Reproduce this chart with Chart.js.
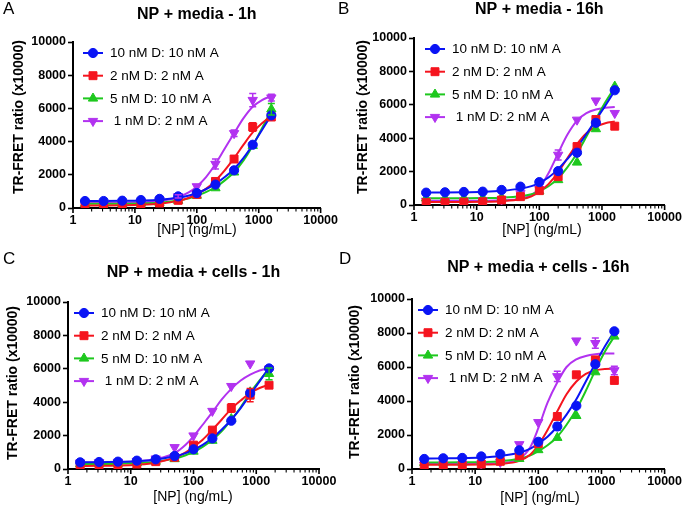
<!DOCTYPE html>
<html>
<head>
<meta charset="utf-8">
<script src="https://cdn.jsdelivr.net/npm/chart.js@4"></script>
<style>
  body { margin: 0; background: #fff; width: 687px; height: 513px; position: relative; overflow: hidden; }
  canvas { position: absolute; }
  .letter { position: absolute; font: 17px "Liberation Sans", Arial, sans-serif; line-height: 17px; color: #000; z-index: 2; }
</style>
</head>
<body>
<canvas id="panelA" width="343" height="250" style="left:0;top:0"></canvas>
<canvas id="panelB" width="344" height="250" style="left:343px;top:0"></canvas>
<canvas id="panelC" width="343" height="263" style="left:0;top:250px"></canvas>
<canvas id="panelD" width="344" height="263" style="left:343px;top:250px"></canvas>
<div class="letter" style="left:3px;top:0">A</div>
<div class="letter" style="left:338px;top:0">B</div>
<div class="letter" style="left:3px;top:250px">C</div>
<div class="letter" style="left:339px;top:250px">D</div>

<script>
// series names (legend order)
const seriesNames = ['10 nM D: 10 nM A', '2 nM D: 2 nM A', '5 nM D: 10 nM A', ' 1 nM D: 2 nM A'];

// [NP] in ng/mL, two-fold dilution
const concentrations = [1.5625, 3.125, 6.25, 12.5, 25, 50, 100, 200, 400, 800, 1600];
const fitX = [1.5625, 3.125, 6.25, 12.5, 25, 50, 75, 100, 140, 200, 280, 400, 565, 800, 1130, 1600];

const xMajorTicks = [1, 10, 100, 1000, 10000];
const xTickLabels = ['1', '10', '100', '1000', '10000'];
const yTicks = [0, 2000, 4000, 6000, 8000, 10000];
const yTickLabels = ['0', '2000', '4000', '6000', '8000', '10000'];

// Panel A: NP + media - 1h
const aBlue   = [420, 420, 440, 480, 550, 700, 900, 1410, 2270, 3810, 5580];
const aRed    = [100, 130, 150, 200, 300, 460, 820, 1600, 2950, 4880, 5480];
const aGreen  = [250, 250, 260, 280, 320, 450, 750, 1200, 2150, 3750, 5950];
const aPurple = [300, 300, 320, 350, 450, 700, 1300, 2650, 4500, 6500, 6650];
const aRedErr    = [0, 0, 0, 0, 0, 0, 0, 0, 0, 250, 0];
const aGreenErr  = [0, 0, 0, 0, 0, 0, 0, 0, 0, 0, 350];
const aPurpleErr = [0, 0, 0, 0, 0, 100, 0, 300, 200, 400, 200];
const aBlueFit   = [420, 420, 430, 450, 500, 620, 750, 900, 1130, 1450, 1850, 2350, 3000, 3800, 4700, 5600];
const aRedFit    = [150, 155, 165, 190, 260, 430, 620, 830, 1150, 1650, 2250, 3000, 3800, 4550, 5100, 5550];
const aGreenFit  = [250, 255, 260, 275, 320, 450, 580, 750, 960, 1250, 1650, 2150, 2850, 3750, 4800, 5900];
const aPurpleFit = [300, 305, 315, 340, 420, 650, 950, 1300, 1850, 2650, 3550, 4500, 5400, 6100, 6500, 6750];

// Panel B: NP + media - 16h
const bBlue   = [740, 760, 780, 800, 900, 1100, 1370, 2030, 3130, 4920, 6870];
const bRed    = [140, 160, 170, 190, 300, 500, 860, 1700, 3500, 5120, 4720];
const bGreen  = [400, 400, 410, 420, 450, 550, 820, 1500, 2550, 4550, 7100];
const bPurple = [250, 250, 260, 270, 320, 700, 950, 3000, 5100, 6250, 5500];
const bBlueErr   = [0, 0, 0, 0, 0, 0, 0, 0, 0, 150, 0];
const bPurpleErr = [0, 0, 0, 0, 0, 0, 0, 300, 0, 0, 0];
const bBlueFit   = [740, 745, 760, 790, 850, 980, 1130, 1330, 1650, 2150, 2750, 3450, 4250, 5100, 5950, 6850];
const bRedFit    = [180, 180, 185, 195, 230, 340, 520, 800, 1250, 1950, 2800, 3650, 4300, 4700, 4900, 5000];
const bGreenFit  = [400, 400, 405, 415, 440, 520, 640, 820, 1120, 1600, 2250, 3100, 4100, 5150, 6150, 7050];
const bPurpleFit = [250, 250, 252, 258, 280, 380, 600, 1000, 1900, 3100, 4200, 5050, 5500, 5720, 5820, 5870];

// Panel C: NP + media + cells - 1h
const cBlue   = [400, 420, 440, 500, 580, 780, 1180, 1830, 2890, 4560, 6020];
const cRed    = [180, 200, 220, 300, 440, 700, 1430, 2330, 3650, 4420, 5020];
const cGreen  = [300, 310, 320, 370, 450, 600, 1050, 1700, 3000, 4600, 5700];
const cPurple = [380, 400, 420, 480, 620, 1300, 2000, 3470, 4960, 6310, 6000];
const cBlueErr  = [0, 0, 0, 0, 0, 0, 0, 0, 0, 200, 0];
const cRedErr   = [0, 0, 0, 0, 0, 0, 0, 0, 250, 400, 0];
const cGreenErr = [0, 0, 0, 0, 0, 0, 0, 0, 0, 0, 350];
const cBlueFit   = [400, 410, 430, 470, 560, 760, 950, 1150, 1450, 1850, 2350, 2950, 3650, 4450, 5250, 6050];
const cRedFit    = [180, 190, 210, 260, 380, 680, 1000, 1330, 1750, 2350, 2950, 3600, 4100, 4550, 4850, 5050];
const cGreenFit  = [300, 305, 320, 360, 440, 620, 820, 1020, 1320, 1750, 2250, 2950, 3700, 4550, 5300, 6000];
const cPurpleFit = [380, 390, 410, 460, 600, 950, 1450, 1950, 2650, 3400, 4150, 4800, 5300, 5650, 5900, 6050];

// Panel D: NP + media + cells - 16h
const dBlue   = [590, 630, 650, 740, 880, 1100, 1600, 2500, 3720, 6160, 8100];
const dRed    = [160, 200, 210, 290, 450, 780, 1490, 3090, 5540, 6420, 5210];
const dGreen  = [370, 380, 390, 420, 470, 600, 1120, 1840, 3130, 5700, 7800];
const dPurple = [250, 260, 270, 300, 400, 1450, 2750, 5450, 7550, 7400, 5800];
const dBlueErr   = [0, 0, 0, 0, 0, 0, 0, 200, 0, 0, 0];
const dPurpleErr = [0, 0, 0, 0, 0, 0, 0, 300, 0, 300, 250];
const dBlueFit   = [620, 625, 640, 680, 770, 960, 1200, 1500, 1900, 2500, 3200, 4100, 5150, 6200, 7200, 8100];
const dRedFit    = [250, 252, 255, 265, 300, 480, 850, 1400, 2300, 3400, 4400, 5150, 5600, 5800, 5880, 5900];
const dGreenFit  = [380, 382, 390, 410, 460, 600, 800, 1050, 1400, 1900, 2600, 3500, 4600, 5800, 6900, 7800];
const dPurpleFit = [300, 300, 302, 310, 350, 600, 1300, 2400, 3900, 5100, 6000, 6450, 6650, 6750, 6790, 6800];

const colors = ['#0a14f5', '#f5141e', '#1ec81e', '#b232f0'];
const pointStyles = ['circle', 'rect', 'triangle', 'triangle'];
const pointRotations = [0, 0, 0, 180];
const pointRadii = [4.6, 5.6, 5.4, 5.4];

function drawMarker(ctx, i, x, y) {
    ctx.save();
    ctx.fillStyle = colors[i];
    ctx.strokeStyle = colors[i];
    ctx.lineWidth = 1;
    Chart.helpers.drawPoint(ctx, {
        pointStyle: pointStyles[i], rotation: pointRotations[i],
        radius: pointRadii[i], borderWidth: 1
    }, x, y);
    ctx.restore();
}

function makePanel(id, cfg) {
    const datasets = [];
    cfg.points.forEach(function (arr, i) {
        datasets.push({
            label: seriesNames[i],
            data: concentrations.map((x, k) => ({ x: x, y: arr[k] })),
            showLine: false,
            pointStyle: pointStyles[i],
            rotation: pointRotations[i],
            pointRadius: pointRadii[i],
            backgroundColor: colors[i],
            borderColor: colors[i],
            borderWidth: 1,
            order: 0,
            errors: cfg.errors[i]
        });
    });
    cfg.fits.forEach(function (arr, i) {
        datasets.push({
            label: seriesNames[i] + ' fit',
            data: fitX.map((x, k) => ({ x: x, y: arr[k] })),
            borderColor: colors[i],
            borderWidth: 2,
            pointRadius: 0,
            cubicInterpolationMode: 'monotone',
            order: 1
        });
    });

    const canvas = document.getElementById(id);
    const W = canvas.width, H = canvas.height;
    const a = cfg.area;

    const decor = {
        id: 'decor',
        afterDatasetsDraw(chart) {
            const ctx = chart.ctx, xs = chart.scales.x, ys = chart.scales.y;
            // error bars
            ctx.save();
            ctx.lineWidth = 1.5;
            chart.data.datasets.forEach(function (ds) {
                if (!ds.errors) return;
                ctx.strokeStyle = ds.borderColor;
                ds.data.forEach(function (p, k) {
                    const e = ds.errors[k];
                    if (!e) return;
                    const px = xs.getPixelForValue(p.x);
                    const y1 = ys.getPixelForValue(p.y + e), y2 = ys.getPixelForValue(p.y - e);
                    ctx.beginPath();
                    ctx.moveTo(px, y1); ctx.lineTo(px, y2);
                    ctx.moveTo(px - 3.5, y1); ctx.lineTo(px + 3.5, y1);
                    ctx.moveTo(px - 3.5, y2); ctx.lineTo(px + 3.5, y2);
                    ctx.stroke();
                });
            });
            ctx.restore();
        },
        afterDraw(chart) {
            const ctx = chart.ctx, area = chart.chartArea, xs = chart.scales.x;
            ctx.save();
            // x ticks, major and minor
            ctx.strokeStyle = '#000';
            xs.ticks.forEach(function (t) {
                const px = xs.getPixelForValue(t.value);
                ctx.lineWidth = t.major ? 1.6 : 1.1;
                ctx.beginPath();
                ctx.moveTo(px, area.bottom);
                ctx.lineTo(px, area.bottom + (t.major ? 5 : 3.5));
                ctx.stroke();
            });
            // title
            ctx.fillStyle = '#000';
            ctx.textAlign = 'center';
            ctx.textBaseline = 'middle';
            ctx.font = 'bold 16px "Liberation Sans", Arial, sans-serif';
            ctx.fillText(cfg.title, (area.left + area.right) / 2, cfg.titleY);
            // x title
            ctx.font = '14px "Liberation Sans", Arial, sans-serif';
            ctx.fillText('[NP] (ng/mL)', cfg.xTitle[0], cfg.xTitle[1]);
            // y title
            ctx.save();
            ctx.translate(cfg.yTitle[0], cfg.yTitle[1]);
            ctx.rotate(-Math.PI / 2);
            ctx.font = 'bold 14px "Liberation Sans", Arial, sans-serif';
            ctx.fillText('TR-FRET ratio (x10000)', 0, 0);
            ctx.restore();
            // legend
            ctx.textAlign = 'left';
            ctx.font = '13.5px "Liberation Sans", Arial, sans-serif';
            for (let i = 0; i < 4; i++) {
                const y = area.top + 11 + i * 22.7;
                const x0 = area.left + cfg.legendDx;
                ctx.strokeStyle = colors[i];
                ctx.lineWidth = 2;
                ctx.beginPath();
                ctx.moveTo(x0, y); ctx.lineTo(x0 + 20, y);
                ctx.stroke();
                drawMarker(ctx, i, x0 + 10, y);
                ctx.fillStyle = '#000';
                ctx.fillText(seriesNames[i], x0 + 27, y + 0.5);
            }
            ctx.restore();
        }
    };

    new Chart(canvas, {
        type: 'line',
        data: { datasets: datasets },
        options: {
            responsive: false,
            animation: false,
            layout: { padding: { left: 0, top: a.t, right: W - a.r, bottom: H - a.b - 30 } },
            plugins: { legend: { display: false }, tooltip: { enabled: false }, title: { display: false } },
            scales: {
                x: {
                    type: 'logarithmic',
                    min: 1,
                    max: 10000,
                    afterBuildTicks: function (scale) {
                        const t = [];
                        xMajorTicks.forEach(function (m, k) {
                            t.push({ value: m, major: true });
                            if (k < xMajorTicks.length - 1) {
                                for (let s = 2; s <= 9; s++) t.push({ value: m * s, major: false });
                            }
                        });
                        scale.ticks = t;
                    },
                    afterFit: function (scale) { scale.height = 30; },
                    ticks: {
                        autoSkip: false,
                        maxRotation: 0,
                        padding: 5,
                        color: '#000',
                        font: { family: '"Liberation Sans", Arial, sans-serif', weight: 'bold', size: 12.5 },
                        callback: function (v) {
                            const k = xMajorTicks.indexOf(v);
                            return k >= 0 ? xTickLabels[k] : '';
                        }
                    },
                    grid: { drawOnChartArea: false, drawTicks: false },
                    border: { color: '#000', width: 2 }
                },
                y: {
                    min: 0,
                    max: 10000,
                    afterBuildTicks: function (scale) {
                        scale.ticks = yTicks.map(v => ({ value: v }));
                    },
                    afterFit: function (scale) { scale.width = a.l; },
                    ticks: {
                        padding: 2,
                        color: '#000',
                        font: { family: '"Liberation Sans", Arial, sans-serif', weight: 'bold', size: 12.5 },
                        callback: function (v) {
                            const k = yTicks.indexOf(v);
                            return k >= 0 ? yTickLabels[k] : '';
                        }
                    },
                    grid: { drawOnChartArea: false, drawTicks: true, tickLength: 5, tickColor: '#000', tickWidth: 1.6 },
                    border: { color: '#000', width: 2 }
                }
            }
        },
        plugins: [decor]
    });
}

makePanel('panelA', {
    title: 'NP + media - 1h', titleY: 15, xTitle: [197, 230], yTitle: [19, 117], legendDx: 10,
    area: { l: 73, r: 325, t: 42, b: 208 },
    points: [aBlue, aRed, aGreen, aPurple],
    errors: [null, aRedErr, aGreenErr, aPurpleErr],
    fits: [aBlueFit, aRedFit, aGreenFit, aPurpleFit]
});
makePanel('panelB', {
    title: 'NP + media - 16h', titleY: 10, xTitle: [199, 230], yTitle: [20, 117], legendDx: 11,
    area: { l: 71, r: 325, t: 38, b: 205 },
    points: [bBlue, bRed, bGreen, bPurple],
    errors: [bBlueErr, null, null, bPurpleErr],
    fits: [bBlueFit, bRedFit, bGreenFit, bPurpleFit]
});
makePanel('panelC', {
    title: 'NP + media + cells - 1h', titleY: 23, xTitle: [193, 247], yTitle: [13, 133], legendDx: 6,
    area: { l: 68, r: 319, t: 52, b: 219 },
    points: [cBlue, cRed, cGreen, cPurple],
    errors: [cBlueErr, cRedErr, cGreenErr, null],
    fits: [cBlueFit, cRedFit, cGreenFit, cPurpleFit]
});
makePanel('panelD', {
    title: 'NP + media + cells - 16h', titleY: 18, xTitle: [197, 248], yTitle: [12, 132], legendDx: 6,
    area: { l: 69, r: 322, t: 49, b: 219 },
    points: [dBlue, dRed, dGreen, dPurple],
    errors: [dBlueErr, null, null, dPurpleErr],
    fits: [dBlueFit, dRedFit, dGreenFit, dPurpleFit]
});
</script>
</body>
</html>
